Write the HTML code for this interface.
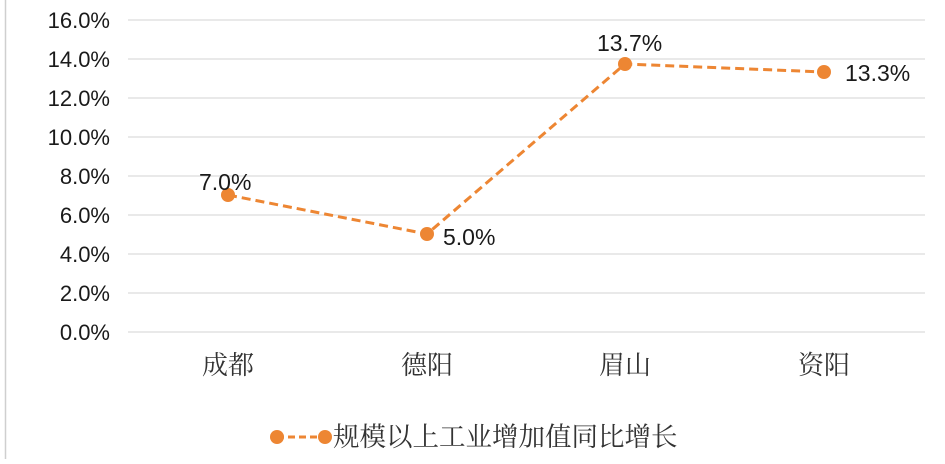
<!DOCTYPE html>
<html><head><meta charset="utf-8"><style>
body{margin:0;background:#fff;width:945px;height:459px;overflow:hidden}
</style></head><body>
<svg width="945" height="459" xmlns="http://www.w3.org/2000/svg">
<line x1="5.5" y1="0" x2="5.5" y2="459" stroke="#cfcfcf" stroke-width="1.5"/>
<g stroke="#e2e2e2" stroke-width="1.5">
<line x1="128" y1="20" x2="925" y2="20"/><line x1="128" y1="59" x2="925" y2="59"/>
<line x1="128" y1="98" x2="925" y2="98"/><line x1="128" y1="137" x2="925" y2="137"/>
<line x1="128" y1="176" x2="925" y2="176"/><line x1="128" y1="215" x2="925" y2="215"/>
<line x1="128" y1="254" x2="925" y2="254"/><line x1="128" y1="293" x2="925" y2="293"/>
<line x1="128" y1="332" x2="925" y2="332"/>
</g>
<g font-family="Liberation Sans, sans-serif" font-size="22" fill="#1a1a1a" text-anchor="end">
<text x="110" y="28">16.0%</text><text x="110" y="67">14.0%</text><text x="110" y="106">12.0%</text>
<text x="110" y="145">10.0%</text><text x="110" y="184">8.0%</text><text x="110" y="223">6.0%</text>
<text x="110" y="262">4.0%</text><text x="110" y="301">2.0%</text><text x="110" y="340">0.0%</text>
</g>
<polyline points="228,195 427,234 625,64 824,72" fill="none" stroke="#ed8633" stroke-width="3" stroke-dasharray="9,5"/>
<g fill="#ed8633"><circle cx="228" cy="195" r="7"/><circle cx="427" cy="234" r="7"/><circle cx="625" cy="64" r="7"/><circle cx="824" cy="72" r="7"/></g>
<g font-family="Liberation Sans, sans-serif" font-size="23" fill="#1a1a1a">
<text x="199" y="190">7.0%</text><text x="443" y="245">5.0%</text>
<text x="597" y="51">13.7%</text><text x="845" y="81">13.3%</text>
</g>
<g font-family="Noto Serif CJK SC, serif" font-size="26" fill="#333" text-anchor="middle">
<text x="228" y="374">成都</text><text x="427" y="374">德阳</text><text x="625" y="374">眉山</text><text x="824" y="374">资阳</text>
</g>
<line x1="277" y1="437" x2="325" y2="437" stroke="#ed8633" stroke-width="3" stroke-dasharray="7,4"/>
<circle cx="277" cy="437" r="7" fill="#ed8633"/><circle cx="325" cy="437" r="7" fill="#ed8633"/>
<text x="333" y="446" font-family="Noto Serif CJK SC, serif" font-size="26.5" fill="#333">规模以上工业增加值同比增长</text>
</svg>
</body></html>
